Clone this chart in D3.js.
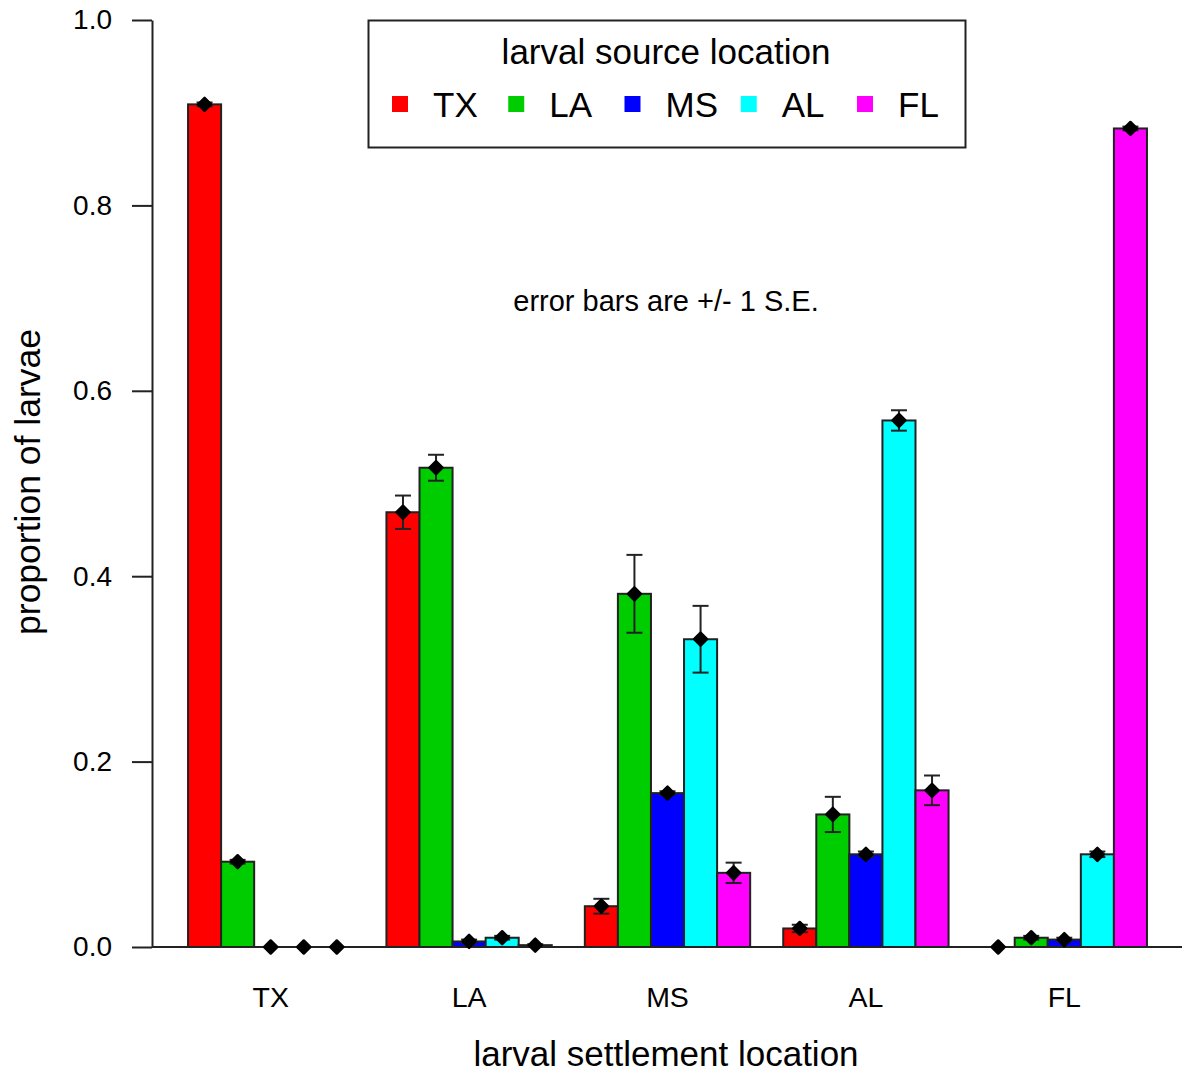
<!DOCTYPE html>
<html lang="en">
<head>
    <meta charset="UTF-8">
    <title>Larval settlement</title>
    <script src="https://d3js.org/d3.v7.min.js"></script>
    <style>
        body { margin: 0; background: #fff; }
        text { font-family: "Liberation Sans", Arial, sans-serif; fill: #000; }
    </style>
</head>
<body>
    <div id="chart"></div>
    <script>
        // settlement locations (groups) and source locations (bars in each group)
        const settlement = ["TX", "LA", "MS", "AL", "FL"];
        const sources = ["TX", "LA", "MS", "AL", "FL"];
        const colors = ["#ff0000", "#00cd00", "#0000ff", "#00ffff", "#ff00ff"];

        // proportion of larvae, one row per settlement location, one value per source
        const propTX = [0.909, 0.092, 0.000, 0.000, 0.000];
        const propLA = [0.469, 0.517, 0.006, 0.010, 0.002];
        const propMS = [0.044, 0.381, 0.166, 0.332, 0.080];
        const propAL = [0.020, 0.143, 0.100, 0.568, 0.169];
        const propFL = [0.000, 0.010, 0.008, 0.100, 0.883];

        // standard errors, same layout
        const seTX = [0.002, 0.002, 0.000, 0.000, 0.000];
        const seLA = [0.018, 0.014, 0.002, 0.002, 0.001];
        const seMS = [0.008, 0.042, 0.002, 0.036, 0.011];
        const seAL = [0.004, 0.019, 0.003, 0.011, 0.016];
        const seFL = [0.000, 0.002, 0.002, 0.003, 0.002];

        const yTicks = [0, 0.2, 0.4, 0.6, 0.8, 1.0];

        const props = [propTX, propLA, propMS, propAL, propFL];
        const ses = [seTX, seLA, seMS, seAL, seFL];

        const data = [];
        settlement.forEach((g, gi) => {
            sources.forEach((s, si) => {
                data.push({ group: g, source: s, color: colors[si], value: props[gi][si], se: ses[gi][si] });
            });
        });

        const width = 1182;
        const height = 1072;

        const svg = d3.select("#chart")
            .append("svg")
            .attr("width", width)
            .attr("height", height);

        // scales
        const x0 = d3.scaleBand()
            .domain(settlement)
            .range([171.5, 1163.5])
            .paddingInner(1 / 6)
            .paddingOuter(1 / 12);

        const x1 = d3.scaleBand()
            .domain(sources)
            .range([0, x0.bandwidth()]);

        const y = d3.scaleLinear()
            .domain([0, 1])
            .range([947, 20]);

        const lineColor = "#222";

        // bars
        svg.append("g")
            .selectAll("rect")
            .data(data)
            .enter()
            .append("rect")
            .attr("x", d => x0(d.group) + x1(d.source))
            .attr("y", d => y(d.value))
            .attr("width", x1.bandwidth())
            .attr("height", d => y(0) - y(d.value))
            .attr("fill", d => d.color)
            .attr("stroke", lineColor)
            .attr("stroke-width", 2);

        // baseline across the plot
        svg.append("line")
            .attr("x1", 152)
            .attr("x2", width)
            .attr("y1", y(0))
            .attr("y2", y(0))
            .attr("stroke", lineColor)
            .attr("stroke-width", 2);

        // error bars
        const capHalf = 8;
        const eb = svg.append("g")
            .selectAll("g")
            .data(data)
            .enter()
            .append("g")
            .attr("transform", d => `translate(${x0(d.group) + x1(d.source) + x1.bandwidth() / 2},0)`);

        eb.append("line")
            .attr("y1", d => y(d.value - d.se))
            .attr("y2", d => y(d.value + d.se))
            .attr("stroke", lineColor)
            .attr("stroke-width", 2);

        eb.selectAll(".cap")
            .data(d => [d.value - d.se, d.value + d.se])
            .enter()
            .append("line")
            .attr("x1", -capHalf)
            .attr("x2", capHalf)
            .attr("y1", v => y(v))
            .attr("y2", v => y(v))
            .attr("stroke", lineColor)
            .attr("stroke-width", 2);

        // diamond points at the means
        eb.append("path")
            .attr("d", "M0,-6.5 L6.5,0 L0,6.5 L-6.5,0 Z")
            .attr("transform", d => `translate(0,${y(d.value)})`)
            .attr("fill", "#000")
            .attr("stroke", "#000")
            .attr("stroke-width", 2.5)
            .attr("stroke-linejoin", "round");

        // y axis
        const yAxis = svg.append("g")
            .attr("transform", "translate(152,0)")
            .call(d3.axisLeft(y)
                .tickValues(yTicks)
                .tickFormat(d3.format(".1f"))
                .tickSize(20)
                .tickSizeOuter(0)
                .tickPadding(20));

        yAxis.selectAll("path, line")
            .attr("stroke", lineColor)
            .attr("stroke-width", 2);
        yAxis.selectAll("text")
            .style("font-size", "28px")
            .attr("fill", "#000");

        // group labels
        const xAxis = svg.append("g")
            .attr("transform", `translate(0,${y(0)})`)
            .call(d3.axisBottom(x0).tickSize(0).tickPadding(40));
        xAxis.select(".domain").remove();
        xAxis.selectAll("text")
            .style("font-size", "28.5px")
            .attr("fill", "#000");

        // axis titles
        svg.append("text")
            .attr("x", 666)
            .attr("y", 1066)
            .attr("text-anchor", "middle")
            .style("font-size", "35px")
            .text("larval settlement location");

        svg.append("text")
            .attr("transform", "translate(40,482) rotate(-90)")
            .attr("text-anchor", "middle")
            .style("font-size", "35.5px")
            .text("proportion of larvae");

        // note
        svg.append("text")
            .attr("x", 666)
            .attr("y", 311)
            .attr("text-anchor", "middle")
            .style("font-size", "29px")
            .text("error bars are +/- 1 S.E.");

        // legend
        const legend = svg.append("g");
        legend.append("rect")
            .attr("x", 368.5)
            .attr("y", 20.5)
            .attr("width", 597)
            .attr("height", 127)
            .attr("fill", "#fff")
            .attr("stroke", lineColor)
            .attr("stroke-width", 2);

        legend.append("text")
            .attr("x", 666)
            .attr("y", 64)
            .attr("text-anchor", "middle")
            .style("font-size", "35px")
            .text("larval source location");

        const legendX = d3.scalePoint()
            .domain(sources)
            .range([392, 857]);

        const items = legend.selectAll(".item")
            .data(sources)
            .enter()
            .append("g")
            .attr("transform", d => `translate(${legendX(d)},0)`);

        items.append("rect")
            .attr("x", 0)
            .attr("y", 96)
            .attr("width", 16)
            .attr("height", 16)
            .attr("fill", (d, i) => colors[i]);

        items.append("text")
            .attr("x", 41)
            .attr("y", 117)
            .style("font-size", "35px")
            .text(d => d);
    </script>
</body>
</html>
